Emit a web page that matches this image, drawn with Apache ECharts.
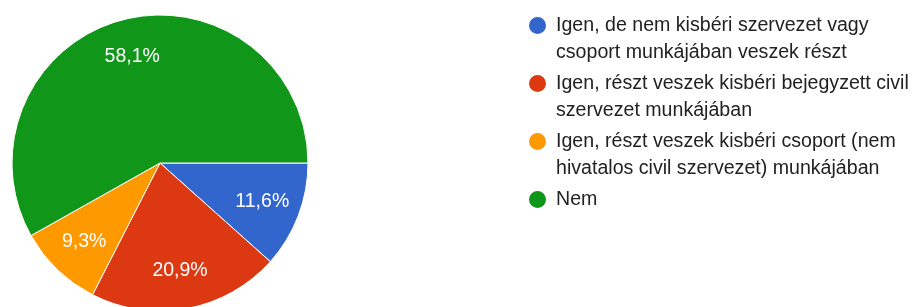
<!DOCTYPE html>
<html>
<head>
<meta charset="utf-8">
<script src="https://cdn.jsdelivr.net/npm/echarts@6/dist/echarts.min.js"></script>
<style>
  html, body { margin: 0; padding: 0; background: #fff; }
  #chart { width: 915px; height: 307px; }
</style>
</head>
<body>
<div id="chart"></div>
<script>
// adatok
const categories = [
  "Igen, de nem kisbéri szervezet vagy csoport munkájában veszek részt",
  "Igen, részt veszek kisbéri bejegyzett civil szervezet munkájában",
  "Igen, részt veszek kisbéri csoport (nem hivatalos civil szervezet) munkájában",
  "Nem"
];
// jelmagyarázat sorai (az első sor a kör mellé kerül)
const legendLines = [
  ["Igen, de nem kisbéri szervezet vagy", "csoport munkájában veszek részt"],
  ["Igen, részt veszek kisbéri bejegyzett civil", "szervezet munkájában"],
  ["Igen, részt veszek kisbéri csoport (nem", "hivatalos civil szervezet) munkájában"],
  ["Nem", ""]
];
const percents = [11.6, 20.9, 9.3, 58.1];
const colors = ["#3366cc", "#dc3912", "#ff9900", "#109618"];

const font = "Arial, 'Liberation Sans', sans-serif";
const pieData = categories.map((name, i) => ({
  name,
  value: percents[i],
  itemStyle: { color: colors[i] }
}));

const chart = echarts.init(document.getElementById("chart"));
chart.setOption({
  animation: false,
  legend: {
    orient: "vertical",
    left: 527,
    top: -15,
    padding: 0,
    itemGap: -23,
    itemWidth: 19,
    itemHeight: 19,
    icon: "circle",
    data: categories,
    // üres első sor, hogy a kör az első szövegsorral egy magasságban legyen
    formatter: (name) => "\n" + legendLines[categories.indexOf(name)].join("\n"),
    textStyle: {
      fontFamily: font,
      fontSize: 19.6,
      lineHeight: 27,
      color: "#222",
      padding: [0, 0, 0, 4]
    }
  },
  series: [
    {
      // szeletek
      type: "pie",
      center: [160, 163],
      radius: 148,
      startAngle: 0,
      clockwise: true,
      label: { show: false },
      labelLine: { show: false },
      itemStyle: { borderColor: "#fff", borderWidth: 1 },
      emphasis: { disabled: true },
      data: pieData
    },
    {
      // feliratok (átlátszó gyűrű)
      type: "pie",
      center: [160, 163],
      radius: [65, 148],
      startAngle: 0,
      clockwise: true,
      silent: true,
      itemStyle: { color: "transparent" },
      label: {
        show: true,
        position: "inside",
        formatter: (p) => String(p.value).replace(".", ",") + "%",
        color: "#fff",
        fontFamily: font,
        fontSize: 19.5
      },
      emphasis: { disabled: true },
      data: categories.map((name, i) => ({ name, value: percents[i] }))
    }
  ]
});
</script>
</body>
</html>
